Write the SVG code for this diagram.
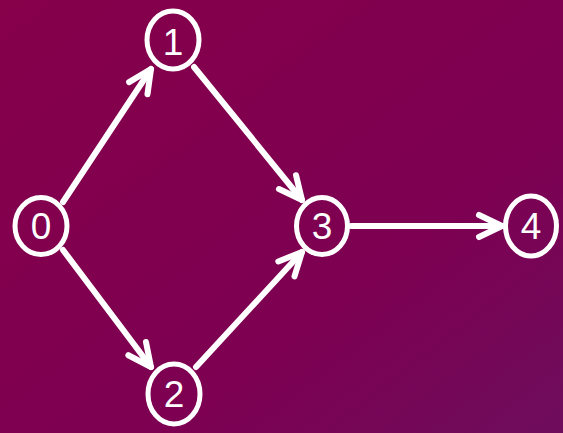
<svg xmlns="http://www.w3.org/2000/svg" width="563" height="433" viewBox="0 0 563 433">
  <defs>
    <linearGradient id="bg" x1="0" y1="0" x2="1" y2="1">
      <stop offset="0" stop-color="#86004a"/>
      <stop offset="0.65" stop-color="#7d0052"/>
      <stop offset="1" stop-color="#6e0d5c"/>
    </linearGradient>
    <marker id="head" markerUnits="userSpaceOnUse" markerWidth="40" markerHeight="40" viewBox="-30 -20 40 40" refX="0" refY="0" orient="auto">
      <path d="M -23 -11 L 0 0 L -23 11" fill="none" stroke="#ffffff" stroke-width="6" stroke-linecap="round" stroke-linejoin="round"/>
    </marker>
    <style>
      .node ellipse { fill: none; stroke: #ffffff; stroke-width: 5; }
      .node text { fill: #ffffff; font-family: "Liberation Sans", Arial, sans-serif; font-size: 37px; text-anchor: middle; }
      .edges line { stroke: #ffffff; stroke-width: 6; stroke-linecap: round; marker-end: url(#head); }
    </style>
  </defs>

  <rect width="563" height="433" fill="url(#bg)"/>

  <g class="edges" id="edges">
    <line x1="63" y1="202" x2="151" y2="69"/>
    <line x1="194" y1="67" x2="302" y2="200"/>
    <line x1="63" y1="250" x2="151" y2="367"/>
    <line x1="196" y1="367" x2="302" y2="252"/>
    <line x1="351" y1="226" x2="502" y2="226"/>
  </g>

  <g class="node" id="node0">
    <ellipse cx="41" cy="226" rx="26" ry="28.5"/>
    <text x="41" y="239">0</text>
  </g>
  <g class="node" id="node1">
    <ellipse cx="173" cy="40" rx="26" ry="29"/>
    <text x="173" y="55">1</text>
  </g>
  <g class="node" id="node2">
    <ellipse cx="174" cy="394" rx="26" ry="30"/>
    <text x="174" y="407">2</text>
  </g>
  <g class="node" id="node3">
    <ellipse cx="322" cy="226" rx="25.5" ry="28.5"/>
    <text x="322" y="239">3</text>
  </g>
  <g class="node" id="node4">
    <ellipse cx="531" cy="226" rx="25.5" ry="30"/>
    <text x="531" y="239">4</text>
  </g>
</svg>
